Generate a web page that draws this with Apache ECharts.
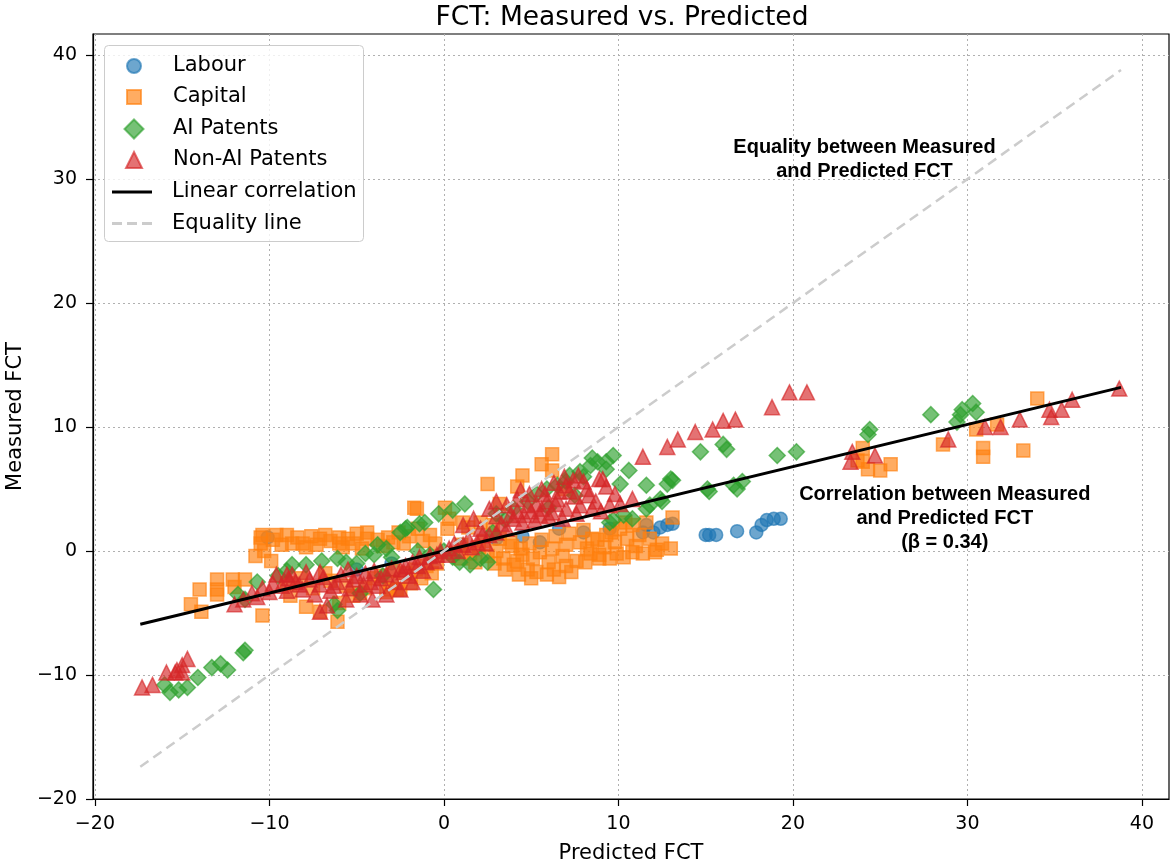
<!DOCTYPE html>
<html>
<head>
<meta charset="utf-8">
<script src="https://cdn.jsdelivr.net/npm/echarts@6/dist/echarts.min.js"></script>
<style>html,body{margin:0;padding:0;background:#fff;}#chart{width:1172px;height:866px;}</style>
</head>
<body>
<div id="chart"></div>
<script>
const titleText = 'FCT: Measured vs. Predicted';
const xName = 'Predicted FCT';
const yName = 'Measured FCT';
const xTicks = [-20, -10, 0, 10, 20, 30, 40];
const yTicks = [-20, -10, 0, 10, 20, 30, 40];

const labour = [[-10.1,1.1],[5.5,0.7],[6.6,1.8],[11.4,1.5],[11.6,2.1],[12.0,1.5],[12.4,1.9],[12.8,2.1],[13.1,2.2],
  [15.0,1.3],[15.2,1.3],[15.6,1.3],[16.8,1.6],[17.9,1.5],[18.2,2.1],[18.5,2.5],[18.9,2.6],[19.3,2.6],
  [1.0,0.5],[3.0,1.0],[4.5,1.2],[8.0,1.5],[9.5,1.8],[-3.0,-1.0],[-5.0,-1.5]];

const capital = [[-14.5,-4.3],[-14.0,-3.1],[-13.9,-4.9],[-13.0,-2.3],[-13.0,-3.1],[-13.0,-3.5],[-12.1,-2.3],[-12.0,-2.9],[-11.4,-2.3],[-10.4,-5.2],
  [-10.5,1.1],[-10.5,0.6],[-10.4,1.3],[-10.3,0.0],[-9.6,1.3],[-9.0,1.3],[-8.7,0.6],[-8.1,0.6],[-7.6,1.2],[-7.1,1.0],[-6.5,0.8],[-6.0,1.1],[-6.0,0.6],[-5.5,1.0],[-5.0,1.4],[-4.4,1.5],[-4.4,1.0],[-3.8,0.9],[-3.2,1.1],[-2.6,1.5],[-2.0,1.2],[-1.5,1.8],[-1.7,3.5],[-1.55,3.4],[-0.8,1.3],
  [-9.8,0.9],[-9.3,0.5],[-8.4,1.1],[-7.9,0.3],[-7.3,0.5],[-6.8,1.3],[-5.8,0.3],[-5.2,0.6],[-4.7,0.2],[-3.5,0.4],[-2.9,0.7],[-2.3,0.6],[-1.2,0.8],[-0.5,0.6],[-10.8,-0.4],[-9.9,-0.8],
  [-7.9,-4.5],[-7.1,-4.9],[-6.1,-5.7],[-6.0,-4.2],[-5.2,-3.6],[-4.5,-3.0],[-3.3,-3.3],[-2.7,-3.1],[-3.1,-3.1],[-2.5,-3.1],[-4.0,-2.2],[-3.0,-2.5],[-2.2,-1.8],[-1.6,-1.5],[-1.0,-1.2],[-9.0,-2.6],[-8.2,-2.2],[-6.8,-1.8],
  [-5.6,-2.8],[-4.8,-3.4],[-3.6,-2.0],[-2.9,-1.6],[-1.9,-2.6],[-1.3,-2.2],[-0.4,-1.0],[-0.7,-1.8],[-6.5,-2.4],[-7.5,-3.0],[-8.8,-3.6],
  [0.06,3.5],[0.2,1.8],[0.3,2.6],[1.1,2.3],[1.4,1.9],[2.1,2.3],[2.5,5.4],[2.8,2.1],[3.2,3.8],[3.2,1.0],[3.8,0.7],[4.2,5.2],[4.4,0.2],[4.5,6.1],[4.5,-0.3],[5.6,7.0],[6.2,7.8],[6.2,6.5],[6.9,5.0],
  [3.4,-0.6],[4.0,-1.1],[4.8,-1.5],[5.3,-1.7],[5.9,-1.9],[6.6,-2.1],[7.3,-1.7],[5.5,-0.1],[6.2,0.2],[7.0,0.5],[7.8,0.7],[8.5,1.0],[9.3,1.3],[10.1,1.8],[10.8,2.1],[11.6,2.3],
  [8.2,0.2],[8.9,-0.3],[9.5,-0.6],[10.8,-0.1],[11.4,-0.2],[12.2,0.1],[13.0,0.2],[13.1,2.7],[9.9,-0.2],[12.1,-0.1],[11.2,1.3],[8.9,-0.6],[1.0,0.5],[2.0,0.3],[3.0,0.0],[2.5,-0.4],[1.5,-0.2],
  [0.5,-0.2],[1.0,-0.6],[1.8,-0.9],[2.3,0.8],[2.9,-1.0],[3.5,-1.5],[3.9,0.4],[4.2,-0.8],[4.9,0.6],[5.1,-0.6],[5.6,0.9],[6.0,-0.9],[6.4,1.2],[6.8,-0.4],[7.2,1.4],[7.6,-0.8],[8.0,1.7],[8.4,-0.2],[8.8,0.9],[9.2,0.3],[9.8,0.7],[10.3,-0.5],[10.5,1.0],[11.0,0.4],[11.8,1.0],[12.5,0.6],[6.3,-1.5],[7.0,-1.2],[5.0,-2.2],[4.3,-1.9],[8.1,-0.9],[9.6,1.5],[10.4,2.3],
  [34.0,12.3],[30.5,9.8],[31.7,10.2],[30.9,8.3],[30.9,7.6],[33.2,8.1],[28.6,8.6],[24.0,8.3],[24.0,7.2],[24.3,6.6],[25.0,6.5],[25.6,7.0],[23.7,7.3]];

const aiPatents = [[-16.0,-10.8],[-15.7,-11.4],[-15.2,-11.2],[-14.7,-11.0],[-14.1,-10.2],[-13.3,-9.4],[-12.8,-9.1],[-12.4,-9.6],[-11.4,-8.0],[-11.5,-8.2],
  [-11.8,-3.5],[-11.4,-3.9],[-10.7,-2.5],[-8.7,-1.1],[-7.9,-1.1],[-6.1,-0.6],[-6.1,-4.8],[-6.3,-4.3],[-4.5,-0.2],[-3.8,0.5],[-2.5,1.5],[-2.1,1.9],[-1.4,2.2],[-2.2,1.8],[-1.1,2.3],[-0.3,3.0],[0.5,3.3],[1.2,3.8],[-0.6,-3.1],[0.9,-0.9],[1.5,-1.1],[2.1,-0.6],[-5.0,-1.0],[-3.0,-0.5],[-1.5,0.0],[-9.5,-2.0],
  [-9.0,-1.6],[-7.0,-0.8],[-5.6,-0.9],[-4.0,-0.3],[-3.3,0.2],[-0.8,-0.3],[0.0,0.0],[0.5,-0.5],[2.8,1.5],[3.0,3.0],[4.0,3.4],[5.3,4.6],[6.5,5.3],[7.2,6.1],[8.0,6.0],[8.5,7.5],[10.6,6.5],[2.5,-0.9],[-4.8,-3.4],[-3.5,-2.0],
  [4.8,4.0],[5.9,5.0],[7.0,5.6],[7.8,6.4],[8.8,7.2],[9.7,7.7],[9.3,6.6],[10.1,5.4],[11.6,5.3],[12.8,5.4],[13.1,5.7],[12.5,4.0],[11.6,3.4],[9.5,2.3],[10.8,2.6],[14.7,8.0],[9.3,7.2],[8.4,6.9],[10.3,2.9],[9.7,2.5],[12.4,4.2],[11.8,3.7],[13.0,5.8],
  [15.1,5.0],[15.2,4.8],[16.6,5.3],[17.1,5.6],[16.8,5.0],[16.0,8.6],[16.2,8.2],[19.1,7.7],[20.2,8.0],[24.4,9.8],[24.3,9.4],[27.9,11.0],[29.4,10.4],[29.7,11.4],[30.3,11.9],[30.5,11.2],[29.6,11.0],[6.0,3.5],[7.5,4.5],[3.5,2.5]];

const nonAiPatents = [[-17.3,-11.0],[-16.7,-10.8],[-15.9,-9.8],[-15.4,-9.8],[-15.3,-9.6],[-15.0,-9.2],[-14.7,-8.7],[-15.0,-9.8],
  [-11.5,-3.9],[-10.7,-3.7],[-10.0,-3.3],[-9.6,-1.9],[-9.0,-1.9],[-8.7,-1.9],[-8.1,-3.1],[-7.9,-1.7],[-7.1,-1.7],[-7.1,-4.9],[-7.1,-2.7],[-6.7,-4.4],[-6.1,-2.5],[-5.6,-3.9],[-5.2,-2.3],[-4.8,-3.5],[-4.2,-2.5],[-4.1,-3.9],[-3.3,-1.9],[-3.3,-3.5],[-2.5,-3.1],[-2.3,-1.7],[-1.8,-2.5],[-2.5,-1.5],[-1.8,-0.9],[-1.0,-0.9],[-0.4,-0.3],[0.3,0.2],[1.1,0.5],[1.9,0.7],[2.6,1.3],[-9.0,-3.2],[-6.5,-3.2],[-5.5,-1.5],[-4.5,-1.8],[-3.8,-2.8],[-2.0,-2.0],[-1.2,-1.6],[-0.5,-0.8],[-8.5,-2.5],
  [-12.0,-4.3],[-11.0,-3.4],[-10.4,-3.0],[-9.8,-2.6],[-9.3,-2.8],[-8.9,-2.2],[-8.3,-2.7],[-7.7,-2.3],[-7.4,-3.5],[-6.9,-2.1],[-6.3,-2.8],[-5.9,-1.9],[-5.4,-3.0],[-5.0,-2.0],[-4.6,-2.7],[-4.0,-1.6],[-3.6,-2.2],[-3.0,-1.4],[-2.8,-2.5],[-2.2,-1.2],[-1.5,-1.2],[-1.4,-0.5],[-0.8,-0.4],[-0.2,0.0],[0.2,-0.3],[0.6,0.6],[0.8,0.0],[1.4,1.0],[1.6,0.3],[2.2,1.3],[2.4,0.6],[3.0,1.5],
  [3.3,2.2],[3.8,2.9],[4.2,3.2],[4.6,2.9],[5.2,2.5],[5.6,3.4],[5.8,4.6],[6.0,2.8],[6.4,3.8],[6.8,2.6],[7.2,4.8],[7.6,3.0],[8.3,4.5],[8.7,4.0],[9.0,3.2],[9.8,4.6],[6.3,5.5],[5.6,5.0],[4.9,4.6],[4.4,4.9],[7.7,6.1],[6.9,6.0],
  [2.6,3.4],[3.0,4.0],[3.6,3.7],[4.2,4.2],[4.8,3.7],[5.3,3.8],[5.9,4.0],[6.6,4.8],[7.0,5.3],[7.4,5.7],[8.0,5.6],[8.2,5.0],[8.9,5.8],[9.3,5.2],[4.0,2.6],[4.5,2.3],[5.5,2.9],[6.2,3.1],[7.0,3.4],[7.8,3.7],[8.5,3.4],[9.5,3.7],[10.1,3.8],[10.8,4.2],[2.1,1.8],[3.6,1.8],[1.1,2.1],[1.7,2.6],[3.0,2.8],[5.0,3.2],[6.5,4.2],[7.5,4.4],
  [11.4,7.6],[12.8,8.4],[13.4,9.0],[14.4,9.6],[15.4,9.8],[16.0,10.5],[16.7,10.6],[18.8,11.6],[19.8,12.8],[20.8,12.8],[9.1,5.8],
  [23.4,8.0],[23.3,7.2],[24.7,7.7],[28.9,9.0],[31.0,10.0],[31.9,10.0],[33.0,10.6],[34.7,11.4],[34.8,10.8],[35.4,11.4],[36.0,12.2],[38.7,13.1]];

const linearFit = [[-17.4,-5.9],[38.8,13.2]];
const equalityLine = [[-17.4,-17.4],[38.8,38.8]];

const annotationEquality = [[24.1, 31.6]];
const annotationEqualityText = 'Equality between Measured\nand Predicted FCT';
const annotationCorr = [[28.7, 2.6]];
const annotationCorrText = 'Correlation between Measured\nand Predicted FCT\n(β = 0.34)';

const fmt = v => String(v).replace('-', '\u2212');
const FONT = 'DejaVu Sans';
const ALPHA = 0.65;

function scatter(name, data, symbol, size, rgb) {
  return {
    name, type: 'scatter', data, symbol, symbolSize: size,
    itemStyle: { color: 'rgba(' + rgb + ',' + ALPHA + ')', borderColor: 'rgba(' + rgb + ',' + ALPHA + ')', borderWidth: 1.5, opacity: 1 },
    emphasis: { disabled: true }
  };
}
function annotation(data, text) {
  return {
    type: 'scatter', data, symbolSize: 0, silent: true, z: 10,
    itemStyle: { opacity: 1 },
    label: { show: true, position: 'inside', formatter: text, color: '#000', opacity: 1, fontFamily: 'Liberation Sans', fontWeight: 'bold', fontSize: 20, lineHeight: 24, align: 'center' }
  };
}
const legendText = { fontFamily: FONT, fontSize: 21, color: '#000', lineHeight: 24 };
const ICON_X = 133, TEXT_X = 172;
function markerLegend(name, icon, size, top) {
  const left = ICON_X - size / 2;
  return {
    orient: 'vertical', left, top, padding: 0,
    itemWidth: size, itemHeight: size, itemGap: 0,
    textStyle: Object.assign({ padding: [0, 0, 0, TEXT_X - (left + size + 5)] }, legendText),
    data: [{ name, icon }]
  };
}

const chart = echarts.init(document.getElementById('chart'), null, { renderer: 'canvas' });
chart.setOption({
  animation: false,
  backgroundColor: '#fff',
  title: { text: titleText, left: 617, top: 0, textAlign: 'center', textStyle: { fontFamily: FONT, fontSize: 26.5, fontWeight: 'normal', color: '#000' } },
  grid: { left: 93, right: 3, top: 34, bottom: 67, show: true, borderColor: '#000', borderWidth: 1.2, backgroundColor: 'transparent', outerBoundsMode: 'none', containLabel: false },
  graphic: [{ type: 'rect', left: 104, top: 45, z: 3, shape: { width: 259, height: 196, r: 4 }, style: { fill: 'rgba(255,255,255,0.8)', stroke: '#cccccc', lineWidth: 1 } }],
  legend: [
    markerLegend('Labour', 'circle', 14, 54),
    markerLegend('Capital', 'rect', 14, 85),
    markerLegend('AI Patents', 'diamond', 19, 117),
    markerLegend('Non-AI Patents', 'triangle', 16, 148),
    {
      orient: 'vertical', left: 112, top: 180, padding: 0,
      itemWidth: 40, itemHeight: 3, itemGap: 7.5,
      itemStyle: { borderWidth: 0 },
      textStyle: Object.assign({ padding: [0, 0, 0, 15] }, legendText),
      data: [
        { name: 'Linear correlation', icon: 'rect' },
        { name: 'Equality line', icon: 'path://M0,0h10v3h-10zM15,0h10v3h-10zM30,0h10v3h-10z' }
      ]
    }
  ],
  xAxis: {
    type: 'value', min: -20.11, max: 41.55,
    name: xName, nameLocation: 'middle', nameGap: 44,
    nameTextStyle: { fontFamily: FONT, fontSize: 21, color: '#000' },
    axisLine: { show: true, onZero: false, lineStyle: { color: '#000', width: 1.2 } },
    axisTick: { show: true, inside: false, length: 7, customValues: xTicks, lineStyle: { color: '#000', width: 1.2 } },
    axisLabel: { customValues: xTicks, formatter: fmt, fontFamily: FONT, fontSize: 19, color: '#000', margin: 16 },
    splitLine: { show: true, lineStyle: { type: [2, 3], color: '#b0b0b0', width: 1 } }
  },
  yAxis: {
    type: 'value', min: -20, max: 41.7,
    name: yName, nameLocation: 'middle', nameGap: 65,
    nameTextStyle: { fontFamily: FONT, fontSize: 21, color: '#000' },
    axisLine: { show: true, onZero: false, lineStyle: { color: '#000', width: 1.2 } },
    axisTick: { show: true, inside: false, length: 7, customValues: yTicks, lineStyle: { color: '#000', width: 1.2 } },
    axisLabel: { customValues: yTicks, formatter: fmt, fontFamily: FONT, fontSize: 19, color: '#000', margin: 16 },
    splitLine: { show: true, lineStyle: { type: [2, 3], color: '#b0b0b0', width: 1 } }
  },
  series: [
    scatter('Labour', labour, 'circle', 13, '31,119,180'),
    scatter('Capital', capital, 'rect', 13, '255,127,14'),
    scatter('AI Patents', aiPatents, 'diamond', 16, '44,160,44'),
    scatter('Non-AI Patents', nonAiPatents, 'triangle', 15, '214,39,40'),
    { name: 'Linear correlation', type: 'line', data: linearFit, symbol: 'none', lineStyle: { color: '#000', width: 3 }, itemStyle: { color: '#000', borderWidth: 0 }, z: 5 },
    { name: 'Equality line', type: 'line', data: equalityLine, symbol: 'none', lineStyle: { color: '#cccccc', width: 2.5, type: [10, 6] }, itemStyle: { color: '#cccccc', borderWidth: 0 }, z: 5 },
    annotation(annotationEquality, annotationEqualityText),
    annotation(annotationCorr, annotationCorrText)
  ]
});
</script>
</body>
</html>
